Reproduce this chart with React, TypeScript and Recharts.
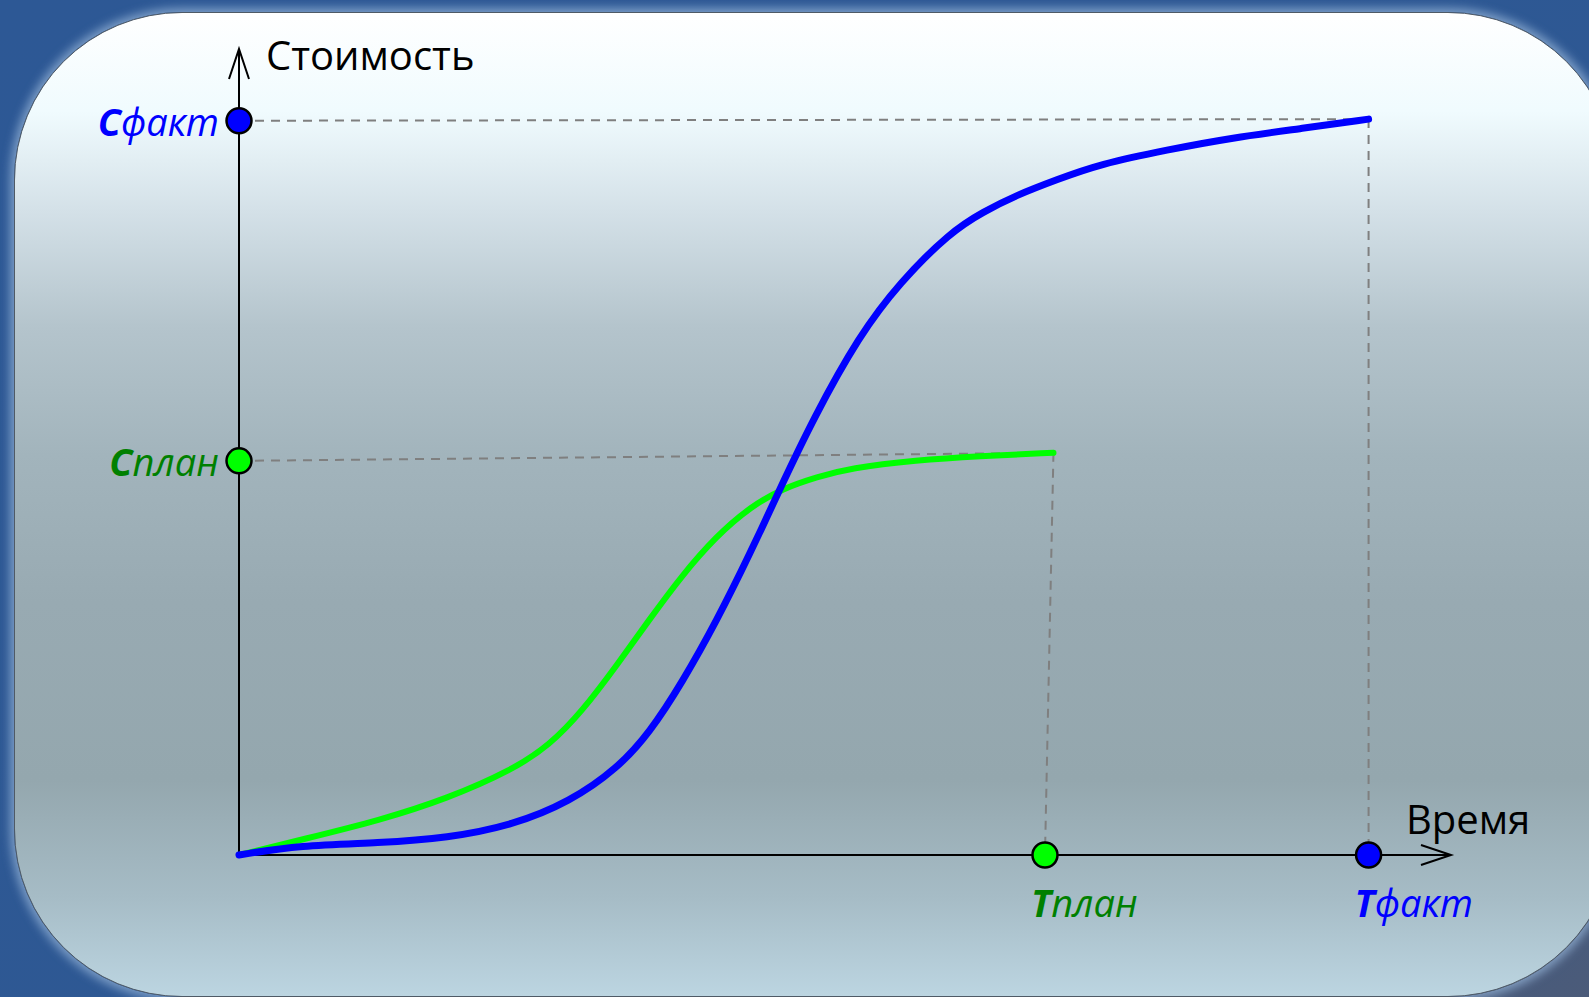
import { ComposedChart, Line, Scatter, XAxis, YAxis, ReferenceLine, ReferenceDot } from 'recharts';

// curve points: t = time (0..100), c = cost (0..100)
const planCurve = [
  { t: 0, c: 0 }, { t: 5.4, c: 2.0 }, { t: 11.6, c: 4.3 }, { t: 17.2, c: 7.0 },
  { t: 22.6, c: 10.6 }, { t: 25.6, c: 13.6 }, { t: 28.3, c: 17.8 }, { t: 31.2, c: 23.6 },
  { t: 33.9, c: 29.3 }, { t: 36.5, c: 34.6 }, { t: 39.4, c: 39.6 }, { t: 42.2, c: 43.2 },
  { t: 44.9, c: 45.5 }, { t: 47.7, c: 46.9 }, { t: 50.4, c: 48.0 }, { t: 55.9, c: 49.0 },
  { t: 61.0, c: 49.5 }, { t: 67.2, c: 49.9 },
];

const factCurve = [
  { t: 0, c: 0 }, { t: 5.0, c: 1.2 }, { t: 11.6, c: 1.5 }, { t: 17.2, c: 2.1 },
  { t: 22.6, c: 3.7 }, { t: 27.3, c: 6.6 }, { t: 31.2, c: 10.7 }, { t: 33.9, c: 15.2 },
  { t: 36.6, c: 21.5 }, { t: 39.4, c: 29.0 }, { t: 42.2, c: 37.5 }, { t: 44.5, c: 45.0 },
  { t: 47.4, c: 54.2 }, { t: 51.2, c: 64.5 }, { t: 54.5, c: 71.0 }, { t: 58.7, c: 77.3 },
  { t: 61.4, c: 79.8 }, { t: 64.2, c: 81.9 }, { t: 67.5, c: 83.8 }, { t: 71.0, c: 85.7 },
  { t: 76.6, c: 87.5 }, { t: 82.0, c: 89.0 }, { t: 87.5, c: 90.1 }, { t: 93.2, c: 91.3 },
];

const costMarks = [
  { t: 0, c: 91.1, letter: 'C', label: 'факт' },
  { t: 0, c: 48.9, letter: 'C', label: 'план' },
];

const timeMarks = [
  { t: 66.5, c: 0, letter: 'T', label: 'план' },
  { t: 93.2, c: 0, letter: 'T', label: 'факт' },
];

const axisTitles = { cost: 'Стоимость', time: 'Время' };

const BLUE = '#0000ff';
const LIME = '#00ff00';
const DARK_GREEN = '#008000';
const FONT = "'Open Sans', 'Noto Sans', sans-serif";

const dotFill = (label: string) => (label === 'факт' ? BLUE : LIME);
const textFill = (label: string) => (label === 'факт' ? BLUE : DARK_GREEN);

const MarkDot = (props: any, side: 'cost' | 'time') => {
  const { cx, cy } = props;
  const p = props.payload ?? props;
  const tx = side === 'cost' ? cx - 20 : cx - 14;
  const ty = side === 'cost' ? cy + 15 : cy + 62;
  return (
    <g>
      <circle cx={cx} cy={cy} r={12.5} fill={dotFill(p.label)} stroke="#000" strokeWidth={2.5} />
      <text
        x={tx}
        y={ty}
        textAnchor={side === 'cost' ? 'end' : 'start'}
        fontFamily={FONT}
        fontSize={38}
        fontStyle="italic"
        fill={textFill(p.label)}
      >
        <tspan fontWeight="bold">{p.letter}</tspan>
        <tspan>{p.label}</tspan>
      </text>
    </g>
  );
};

const XArrow = ({ cx, cy }: any) => (
  <g>
    <polyline points={`${cx - 30},${cy - 10} ${cx},${cy} ${cx - 30},${cy + 10}`} fill="none" stroke="#000" strokeWidth={2} />
    <text x={cx - 45} y={cy - 21} fontFamily={FONT} fontSize={40} fill="#000">{axisTitles.time}</text>
  </g>
);

const YArrow = ({ cx, cy }: any) => (
  <g>
    <polyline points={`${cx - 10},${cy + 30} ${cx},${cy} ${cx + 10},${cy + 30}`} fill="none" stroke="#000" strokeWidth={2} />
    <text x={cx + 27} y={cy + 21} fontFamily={FONT} fontSize={40} fill="#000">{axisTitles.cost}</text>
  </g>
);

const dash = { stroke: '#7f7f7f', strokeWidth: 2, strokeDasharray: '9 7' };

export default function App() {
  const planEnd = planCurve[planCurve.length - 1];
  const factEnd = factCurve[factCurve.length - 1];

  return (
    <div
      style={{
        position: 'fixed', left: 0, top: 0, width: 1589, height: 997, overflow: 'hidden',
        background: 'linear-gradient(150deg, #2d5895 0%, #2e5893 62%, #4b5b79 100%)',
      }}
    >
      <div
        style={{
          position: 'absolute', left: 14, top: 12, width: 1600, height: 983, borderRadius: 168,
          border: '1.5px solid #4f5a66',
          boxShadow: '0 0 10px 4px rgba(150,180,215,0.75)',
          background:
            'linear-gradient(180deg, #ffffff 0%, #f0fbfe 10%, #d4e1e8 20%, #b4c4cc 32%, #a2b4bc 45%, #98aab2 60%, #94a7ae 78%, #a6bcc6 90%, #bcd5e1 100%)',
        }}
      />
      <div style={{ position: 'absolute', left: 0, top: 0 }}>
        <ComposedChart width={1589} height={997} margin={{ top: 49, right: 138, bottom: 142, left: 239 }}>
          <XAxis type="number" dataKey="t" domain={[0, 100]} hide />
          <YAxis type="number" dataKey="c" domain={[0, 100]} hide />

          <ReferenceLine segment={[{ x: 0, y: costMarks[0].c }, { x: factEnd.t, y: factEnd.c }]} {...dash} ifOverflow="visible" />
          <ReferenceLine segment={[{ x: factEnd.t, y: factEnd.c }, { x: timeMarks[1].t, y: 0 }]} {...dash} ifOverflow="visible" />
          <ReferenceLine segment={[{ x: 0, y: costMarks[1].c }, { x: planEnd.t, y: planEnd.c }]} {...dash} ifOverflow="visible" />
          <ReferenceLine segment={[{ x: planEnd.t, y: planEnd.c }, { x: timeMarks[0].t, y: 0 }]} {...dash} ifOverflow="visible" />

          <ReferenceLine segment={[{ x: 0, y: 0 }, { x: 100, y: 0 }]} stroke="#000" strokeWidth={2} ifOverflow="visible" />
          <ReferenceLine segment={[{ x: 0, y: 0 }, { x: 0, y: 100 }]} stroke="#000" strokeWidth={2} ifOverflow="visible" />
          <ReferenceDot x={100} y={0} shape={XArrow} ifOverflow="visible" />
          <ReferenceDot x={0} y={100} shape={YArrow} ifOverflow="visible" />

          <Line data={planCurve} dataKey="c" type="basis" stroke={LIME} strokeWidth={6} dot={false} activeDot={false} strokeLinecap="round" isAnimationActive={false} />
          <Line data={factCurve} dataKey="c" type="basis" stroke={BLUE} strokeWidth={7} dot={false} activeDot={false} strokeLinecap="round" isAnimationActive={false} />

          <Scatter data={costMarks} dataKey="c" shape={(p: any) => MarkDot(p, 'cost')} isAnimationActive={false} />
          <Scatter data={timeMarks} dataKey="c" shape={(p: any) => MarkDot(p, 'time')} isAnimationActive={false} />
        </ComposedChart>
      </div>
    </div>
  );
}
